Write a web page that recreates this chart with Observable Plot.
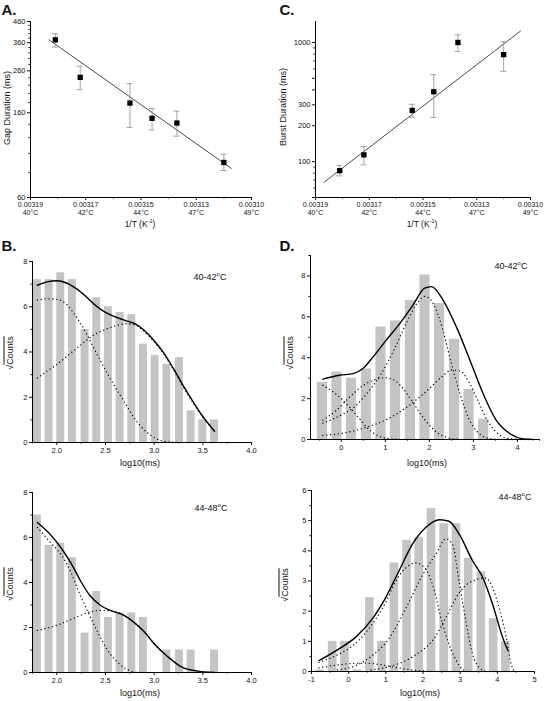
<!DOCTYPE html>
<html><head><meta charset="utf-8">
<script src="https://cdn.jsdelivr.net/npm/d3@7"></script>
<script src="https://cdn.jsdelivr.net/npm/@observablehq/plot@0.6"></script>
<style>
body{margin:0;background:#fff;}
#fig{position:relative;width:544px;height:701px;font-family:"Liberation Sans",Arial,sans-serif;background:#fff;overflow:hidden;color:#111}
</style></head><body><div id="fig"></div>
<script>
// ---------- data: panels A and C ----------
const invT = [0.003181, 0.003172, 0.003154, 0.003146, 0.003137, 0.003120];
const gapMs = [372, 241, 179, 150, 142, 90];
const gapLo = [342, 209, 135, 131, 122, 82];
const gapHi = [399, 274, 224, 168, 163, 99];
const gapFitX = [0.0031833, 0.0031173];
const gapFitY = [372, 84];
const burstMs = [84, 114, 269, 386, 1000, 791];
const burstLo = [76, 94, 235, 235, 838, 573];
const burstHi = [93, 134, 303, 537, 1158, 1013];
const burstFitX = [0.0031869, 0.0031137];
const burstFitY = [67, 1249];
const invTTicks = [0.00319, 0.00317, 0.00315, 0.00313, 0.00311];
const invTMinor = [0.00318, 0.00316, 0.00314, 0.00312];
const invTLabels = ["0.00319\n40°C", "0.00317\n42°C", "0.00315\n44°C", "0.00313\n47°C", "0.00310\n49°C"];
const gapTicks = [60, 160, 260, 360, 460];
const gapMinor = [80, 100, 120, 140, 180, 200, 220, 240, 280, 300, 320, 340, 380, 400, 420, 440];
const burstTicks = [50, 100, 200, 300, 400, 500, 1000];
const burstMinor = [60, 70, 80, 90, 600, 700, 800, 900];

// ---------- data: panel B (gap histograms) ----------
const bCenters = [1.80, 1.92, 2.04, 2.16, 2.29, 2.41, 2.53, 2.65, 2.77, 2.89, 3.01, 3.13, 3.26, 3.38, 3.50, 3.62];
const bTopCounts = [7.2, 7.2, 7.5, 7.2, 5.0, 6.4, 6.0, 5.75, 5.65, 4.35, 3.85, 3.45, 3.75, 1.4, 1.0, 1.0];
const bBotCounts = [7.0, 5.65, 5.75, 5.1, 1.75, 3.6, 2.45, 2.65, 2.65, 2.45, 0, 1.0, 1.0, 1.0, 0, 1.0];
const bTopFit = [[1.8,6.95],[1.9,7.1],[2.0,7.15],[2.1,7.05],[2.2,6.8],[2.3,6.45],[2.4,6.05],[2.5,5.75],[2.6,5.55],[2.7,5.4],[2.8,5.25],[2.9,4.95],[3.0,4.5],[3.1,3.95],[3.2,3.25],[3.3,2.5],[3.4,1.8],[3.5,1.15],[3.62,0.5]];
const bTopC1 = [[1.8,6.3],[1.9,6.35],[2.0,6.33],[2.1,6.1],[2.2,5.55],[2.3,4.85],[2.4,4.0],[2.5,3.2],[2.6,2.45],[2.7,1.75],[2.8,1.05],[2.9,0.55],[3.0,0.22],[3.1,0.05],[3.25,0]];
const bTopC2 = [[1.8,2.85],[1.9,3.15],[2.0,3.45],[2.1,3.8],[2.2,4.15],[2.3,4.5],[2.4,4.8],[2.5,5.0],[2.6,5.15],[2.7,5.25],[2.8,5.2],[2.9,4.9],[3.0,4.45],[3.1,3.9],[3.2,3.2],[3.3,2.45],[3.4,1.75],[3.5,1.1]];
const bBotFit = [[1.8,6.67],[1.93,6.15],[2.05,5.5],[2.16,4.75],[2.24,4.1],[2.34,3.42],[2.45,2.98],[2.55,2.76],[2.69,2.54],[2.79,2.24],[2.9,1.8],[3.0,1.28],[3.14,0.7],[3.28,0.25],[3.45,0.06],[3.62,0]];
const bBotC1 = [[1.8,6.45],[1.93,5.8],[2.05,5.2],[2.14,4.5],[2.22,3.65],[2.33,2.6],[2.41,1.87],[2.52,1.0],[2.62,0.47],[2.76,0.07],[2.86,0]];
const bBotC2 = [[1.8,1.87],[2.0,2.1],[2.2,2.46],[2.34,2.69],[2.48,2.76],[2.6,2.7],[2.69,2.54],[2.79,2.24],[2.9,1.8],[3.0,1.28],[3.1,0.85]];

// ---------- data: panel D (burst histograms) ----------
const dCenters = [-0.77, -0.43, -0.10, 0.23, 0.57, 0.90, 1.23, 1.57, 1.90, 2.23, 2.57, 2.90, 3.23, 3.57, 3.90, 4.23];
const dTopCounts = [0, 2.8, 3.3, 3.0, 3.45, 5.5, 5.8, 6.8, 8.05, 6.65, 4.9, 2.45, 1.0, 0, 0, 0];
const dBotCounts = [0.05, 1.0, 1.0, 0.05, 2.45, 1.0, 3.6, 4.35, 4.45, 5.4, 4.9, 4.9, 3.75, 3.3, 1.75, 1.0];
const dTopFit = [[-0.42,2.95],[-0.04,3.14],[0.27,3.22],[0.49,3.47],[0.72,4.04],[1.02,4.86],[1.33,5.68],[1.63,6.58],[1.89,7.4],[2.05,7.48],[2.31,6.82],[2.61,5.52],[2.92,3.88],[3.22,2.24],[3.52,0.93],[3.83,0.28],[4.13,0.03],[4.36,0]];
const dTopC1 = [[-0.42,2.65],[-0.2,2.35],[0,2.0],[0.2,1.55],[0.4,1.05],[0.6,0.55],[0.8,0.22],[1.0,0.07],[1.3,0.01],[4.3,0]];
const dTopC2 = [[-0.42,0.95],[-0.1,1.45],[0.2,2.1],[0.5,2.65],[0.8,2.95],[1.0,3.02],[1.2,2.9],[1.4,2.5],[1.6,1.9],[1.8,1.25],[2.0,0.7],[2.2,0.3],[2.4,0.1],[2.7,0]];
const dTopC3 = [[-0.42,0.8],[0.0,1.2],[0.3,1.6],[0.6,2.3],[0.9,3.2],[1.2,4.4],[1.5,5.8],[1.7,6.6],[1.9,7.0],[2.1,6.6],[2.3,5.4],[2.5,3.7],[2.7,2.2],[2.9,1.0],[3.1,0.35],[3.3,0.08],[3.6,0]];
const dTopC4 = [[-0.42,0.2],[0,0.3],[0.5,0.55],[1.0,0.95],[1.5,1.6],[2.0,2.5],[2.3,3.1],[2.5,3.4],[2.7,3.35],[2.9,2.8],[3.1,1.9],[3.3,1.0],[3.5,0.4],[3.7,0.1],[4.0,0.01],[4.3,0]];
const dBotFit = [[-0.8,0.36],[-0.26,0.75],[0.19,1.14],[0.64,1.75],[1.0,2.46],[1.36,3.35],[1.72,4.23],[2.08,4.78],[2.44,5.03],[2.7,4.98],[2.97,4.56],[3.33,3.68],[3.6,3.13],[3.87,2.24],[4.14,1.14],[4.28,0.7]];
const dBotC1 = [[-0.8,0.3],[-0.3,0.55],[0.2,0.95],[0.64,1.58],[1.0,2.3],[1.27,3.0],[1.55,3.45],[1.8,3.6],[2.1,3.35],[2.3,2.7],[2.5,1.7],[2.7,0.9],[2.84,0.5],[3.0,0.15],[3.2,0]];
const dBotC2 = [[-0.3,0.05],[0.2,0.2],[0.6,0.5],[1.09,1.1],[1.54,2.1],[1.99,3.2],[2.35,3.9],[2.62,4.4],[2.8,4.2],[2.97,3.0],[3.15,1.7],[3.33,0.6],[3.5,0.15],[3.7,0]];
const dBotC3 = [[0.6,0.05],[1.2,0.2],[1.8,0.55],[2.3,1.1],[2.62,1.8],[2.97,2.6],[3.33,3.0],[3.69,3.1],[3.9,2.7],[4.05,2.1],[4.23,1.2],[4.37,0.25],[4.45,0]];
const dBotC4 = [[-0.8,0.12],[-0.4,0.2],[0,0.26],[0.4,0.28],[0.8,0.24],[1.2,0.15],[1.6,0.07],[2.0,0.02],[2.5,0],[4.4,0]];

const bXTicks = [2.0, 2.5, 3.0, 3.5, 4.0];
const bXMinor = [1.75, 2.25, 2.75, 3.25, 3.75];
const bYTicks = [0, 2, 4, 6, 8];
const bYMinor = [1, 3, 5, 7];
const dTopXTicks = [0, 1, 2, 3, 4];
const dTopXMinor = [-0.5, 0.5, 1.5, 2.5, 3.5, 4.5];
const dTopYTicks = [0, 2, 4, 6, 8];
const dTopYMinor = [1, 3, 5, 7, 9];
const dBotXTicks = [-1, 0, 1, 2, 3, 4, 5];
const dBotXMinor = [-0.5, 0.5, 1.5, 2.5, 3.5, 4.5];
const dBotYTicks = [0, 1, 2, 3, 4, 5, 6];
const dBotYMinor = [0.5, 1.5, 2.5, 3.5, 4.5, 5.5];

// ---------- drawing ----------
const fig = document.getElementById("fig");
const FONT = '"Liberation Sans", Arial, sans-serif';
function place(el, left, top) {
  el.style.position = "absolute"; el.style.left = left + "px"; el.style.top = top + "px";
  fig.appendChild(el);
}
function label(html, cx, cy, size, opts = {}) {
  const d = document.createElement("div");
  d.style.cssText = `position:absolute;left:${cx}px;top:${cy}px;transform:translate(-50%,-50%)${opts.rotate ? " rotate(-90deg)" : ""};font-size:${size}px;white-space:nowrap;line-height:1;${opts.bold ? "font-weight:bold;" : ""}font-family:${FONT};color:#111`;
  d.innerHTML = html;
  fig.appendChild(d);
}
function axes(xT, xMin, yT, yMin, xFmt, xFont) {
  return [
    Plot.axisY(yT, {tickSize: 3, tickPadding: 2, tickFormat: d => String(d), label: null, fontSize: 7.5}),
    Plot.axisY(yMin, {tickSize: 1.6, tickFormat: () => "", label: null}),
    Plot.axisX(xT, {tickSize: 3, tickPadding: 1.5, tickFormat: xFmt || (d => String(d)), label: null, fontSize: xFont || 7.5, lineHeight: 1.1}),
    Plot.axisX(xMin, {tickSize: 1.6, tickFormat: () => "", label: null})
  ];
}
const dotted = {stroke: "#000", strokeWidth: 1.3, strokeDasharray: "0.1 3.8", strokeLinecap: "round", curve: "monotone-x"};
const solid = {stroke: "#000", strokeWidth: 1.4, curve: "monotone-x"};

function scatterPlot({ys, lo, hi, fitX, fitY, yDomain, yTicks, yMinor, ml, mr}) {
  const pts = invT.map((x, i) => ({x, y: ys[i], lo: lo[i], hi: hi[i]}));
  const fit = fitX.map((x, i) => ({x, y: fitY[i]}));
  return Plot.plot({
    width: 272, height: 235, marginLeft: ml, marginRight: mr, marginTop: 21, marginBottom: 38,
    style: {fontFamily: FONT, fontSize: "7.5px", background: "transparent", overflow: "visible", color: "#111"},
    x: {domain: [0.00319, 0.00311], label: null},
    y: {type: "log", domain: yDomain, label: null},
    marks: [
      ...axes(invTTicks, invTMinor, yTicks, yMinor, d => invTLabels[invTTicks.indexOf(d)], 7),
      Plot.ruleX([0.00319], {stroke: "#000", strokeWidth: 1}),
      Plot.ruleY([yDomain[0]], {stroke: "#000", strokeWidth: 1}),
      Plot.line(fit, {x: "x", y: "y", stroke: "#333", strokeWidth: 0.9}),
      Plot.ruleX(pts, {x: "x", y1: "lo", y2: "hi", stroke: "#999", strokeWidth: 0.9}),
      Plot.ruleY(pts, {y: "lo", x1: "x", x2: "x", insetLeft: -3, insetRight: -3, stroke: "#999", strokeWidth: 0.9}),
      Plot.ruleY(pts, {y: "hi", x1: "x", x2: "x", insetLeft: -3, insetRight: -3, stroke: "#999", strokeWidth: 0.9}),
      Plot.dot(pts, {x: "x", y: "y", symbol: "square", r: 3, fill: "#000", stroke: "none"})
    ]
  });
}

function histPlot({centers, counts, fit, comps, xDomain, yDomain, xT, xMin, yT, yMin, w, h, ml, mr, mt, mb, xFmt}) {
  const step = centers[1] - centers[0];
  const bars = centers.map((c, i) => ({x1: c - step * 0.34, x2: c + step * 0.34, y: counts[i]})).filter(d => d.y > 0);
  const toObj = arr => arr.map(([x, y]) => ({x, y}));
  return Plot.plot({
    width: w, height: h, marginLeft: ml, marginRight: mr, marginTop: mt, marginBottom: mb,
    style: {fontFamily: FONT, fontSize: "7.5px", background: "transparent", overflow: "visible", color: "#111"},
    x: {domain: xDomain, label: null},
    y: {domain: yDomain, label: null},
    marks: [
      Plot.rectY(bars, {x1: "x1", x2: "x2", y1: 0, y2: "y", fill: "#c4c4c4"}),
      ...axes(xT, xMin, yT, yMin, xFmt),
      Plot.ruleX([xDomain[0]], {stroke: "#000", strokeWidth: 1}),
      Plot.ruleY([0], {stroke: "#000", strokeWidth: 1}),
      ...comps.map(c => Plot.line(toObj(c), {x: "x", y: "y", ...dotted})),
      Plot.line(toObj(fit), {x: "x", y: "y", ...solid})
    ]
  });
}

// Panel A
place(scatterPlot({ys: gapMs, lo: gapLo, hi: gapHi, fitX: gapFitX, fitY: gapFitY, yDomain: [60, 460], yTicks: gapTicks, yMinor: gapMinor, ml: 30, mr: 21}), 0, 0);
// Panel C
place(scatterPlot({ys: burstMs, lo: burstLo, hi: burstHi, fitX: burstFitX, fitY: burstFitY, yDomain: [50, 1500], yTicks: burstTicks, yMinor: burstMinor, ml: 43, mr: 14}), 272, 0);

const fmt1 = d => d.toFixed(1);
// Panel B top / bottom
place(histPlot({centers: bCenters, counts: bTopCounts, fit: bTopFit, comps: [bTopC1, bTopC2], xDomain: [1.75, 4.0], yDomain: [0, 8],
  xT: bXTicks, xMin: bXMinor, yT: bYTicks, yMin: bYMinor, w: 272, h: 225, ml: 32, mr: 21, mt: 11, mb: 33, xFmt: fmt1}), 0, 250);
place(histPlot({centers: bCenters, counts: bBotCounts, fit: bBotFit, comps: [bBotC1, bBotC2], xDomain: [1.75, 4.0], yDomain: [0, 8],
  xT: bXTicks, xMin: bXMinor, yT: bYTicks, yMin: bYMinor, w: 272, h: 221, ml: 32, mr: 21, mt: 12, mb: 29, xFmt: fmt1}), 0, 480);
// Panel D top / bottom
place(histPlot({centers: dCenters, counts: dTopCounts, fit: dTopFit, comps: [dTopC1, dTopC2, dTopC3, dTopC4], xDomain: [-0.7, 4.5], yDomain: [0, 9],
  xT: dTopXTicks, xMin: dTopXMinor, yT: dTopYTicks, yMin: dTopYMinor, w: 272, h: 225, ml: 38, mr: 5, mt: 5, mb: 36}), 272, 250);
place(histPlot({centers: dCenters, counts: dBotCounts, fit: dBotFit, comps: [dBotC1, dBotC2, dBotC3, dBotC4], xDomain: [-1, 5], yDomain: [0, 6],
  xT: dBotXTicks, xMin: dBotXMinor, yT: dBotYTicks, yMin: dBotYMinor, w: 272, h: 221, ml: 39, mr: 10, mt: 10, mb: 30}), 272, 480);

// Panel letters
label("A.", 9, 9, 15, {bold: true});
label("C.", 287, 9, 15, {bold: true});
label("B.", 9, 245, 15, {bold: true});
label("D.", 287, 245, 15, {bold: true});

// Axis titles
const sqrtC = '√<span style="text-decoration:overline">Counts</span>';
const invTTitle = "1/T (K<sup style='font-size:5.5px'>-1</sup>)";
label("Gap Duration (ms)", 7, 108, 9, {rotate: true});
label(invTTitle, 140, 224, 8.5);
label("Burst Duration (ms)", 283, 107, 9, {rotate: true});
label(invTTitle, 422, 224, 8.5);
label(sqrtC, 10, 353, 9, {rotate: true});
label("log10(ms)", 140, 463, 9);
label(sqrtC, 10, 584, 9, {rotate: true});
label("log10(ms)", 140, 693, 9);
label(sqrtC, 290, 353, 9, {rotate: true});
label("log10(ms)", 427, 463, 9);
label(sqrtC, 285, 585, 9, {rotate: true});
label("log10(ms)", 420, 693, 9);

// Temperature labels
label("40-42<sup style='font-size:6px'>o</sup>C", 210, 276, 9);
label("44-48<sup style='font-size:6px'>o</sup>C", 211, 507, 9);
label("40-42<sup style='font-size:6px'>o</sup>C", 511, 265, 9);
label("44-48<sup style='font-size:6px'>o</sup>C", 515, 496, 9);
</script></body></html>
